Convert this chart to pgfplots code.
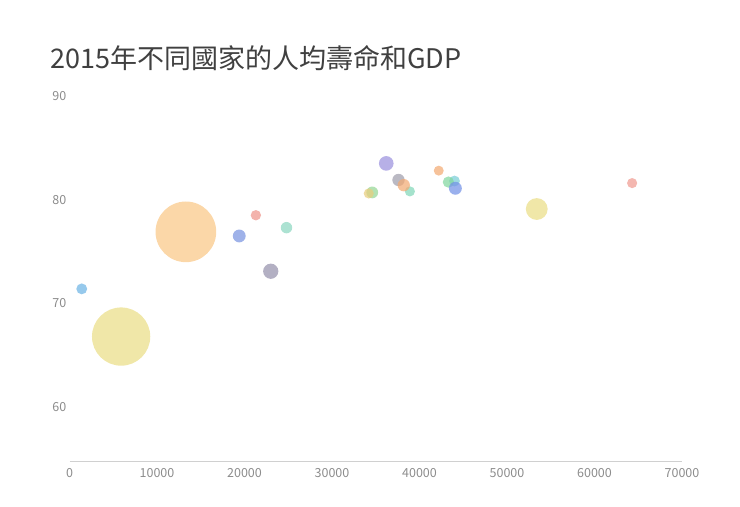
\documentclass[border=0pt]{standalone}
\usepackage{fontspec}
\setmainfont{Noto Sans CJK TC}
\usepackage{pgfplots}
\pgfplotsset{compat=1.18}
\usepackage{pgfplotstable}

\definecolor{ticktext}{HTML}{8C8C8C}
\definecolor{titletext}{HTML}{404040}
\definecolor{axisgray}{HTML}{D0D0D0}

% one colour per country
\definecolor{cAus}{RGB}{120,205,215}
\definecolor{cCan}{RGB}{130,215,160}
\definecolor{cChn}{RGB}{250,200,135}
\definecolor{cCub}{RGB}{238,150,140}
\definecolor{cFin}{RGB}{130,215,185}
\definecolor{cFra}{RGB}{160,158,172}
\definecolor{cDeu}{RGB}{115,145,230}
\definecolor{cIsl}{RGB}{243,170,115}
\definecolor{cInd}{RGB}{234,222,135}
\definecolor{cJpn}{RGB}{155,145,222}
\definecolor{cPrk}{RGB}{110,180,228}
\definecolor{cKor}{RGB}{150,215,150}
\definecolor{cNzl}{RGB}{232,205,125}
\definecolor{cNor}{RGB}{240,155,145}
\definecolor{cPol}{RGB}{140,215,192}
\definecolor{cRus}{RGB}{150,145,172}
\definecolor{cTur}{RGB}{122,148,225}
\definecolor{cGbr}{RGB}{243,170,115}
\definecolor{cUsa}{RGB}{234,222,135}

% gdp per capita, life expectancy, population (millions), colour
\pgfplotstableread{
gdp   life  pop   col
44000 81.8  24    cAus
43300 81.7  36    cCan
13300 76.9  1376  cChn
21300 78.5  11    cCub
38900 80.8  5.5   cFin
37600 81.9  64    cFra
44100 81.1  81    cDeu
42200 82.8  0.3   cIsl
5900  66.8  1311  cInd
36200 83.5  127   cJpn
1400  71.4  25    cPrk
34600 80.7  50    cKor
34200 80.6  4.5   cNzl
64300 81.6  5.2   cNor
24800 77.3  39    cPol
23000 73.1  143   cRus
19400 76.5  79    cTur
38200 81.4  65    cGbr
53400 79.1  322   cUsa
}\lifedata

\begin{document}
\begin{tikzpicture}
\path[use as bounding box] (-69.5bp,-46bp) rectangle (670.5bp,461bp);
\begin{axis}[
    at={(0,0)}, anchor=south west,
    scale only axis,
    width=612.5bp, height=365bp,
    xmin=0, xmax=70000,
    ymin=54.8, ymax=90,
    xtick={0,10000,...,70000},
    ytick={60,70,80,90},
    scaled x ticks=false,
    /pgf/number format/1000 sep={},
    /pgf/number format/assume math mode=true,
    axis x line*=bottom, axis y line*=left,
    x axis line style={draw=axisgray, line width=0.8bp, -},
    y axis line style={draw=none},
    major tick length=0pt,
    tick style={draw=none},
    xticklabel style={font=\fontsize{12.5bp}{14bp}\selectfont, text=ticktext,
        anchor=north, inner sep=0pt, yshift=-7bp},
    yticklabel style={font=\fontsize{12.5bp}{14bp}\selectfont, text=ticktext,
        anchor=east, inner sep=0pt, xshift=-3bp},
    clip=false,
]
\addplot[
    scatter, only marks, mark=*,
    mark options={draw opacity=0, fill opacity=0.72},
    point meta=explicit symbolic,
    scatter/classes={
        cAus={fill=cAus}, cCan={fill=cCan}, cChn={fill=cChn}, cCub={fill=cCub},
        cFin={fill=cFin}, cFra={fill=cFra}, cDeu={fill=cDeu}, cIsl={fill=cIsl},
        cInd={fill=cInd}, cJpn={fill=cJpn}, cPrk={fill=cPrk}, cKor={fill=cKor},
        cNzl={fill=cNzl}, cNor={fill=cNor}, cPol={fill=cPol}, cRus={fill=cRus},
        cTur={fill=cTur}, cGbr={fill=cGbr}, cUsa={fill=cUsa}},
    visualization depends on={\thisrow{pop} \as \pop},
    scatter/@pre marker code/.append style={/tikz/mark size=5+0.0185*\pop},
] table[x=gdp, y=life, meta=col] {\lifedata};
\end{axis}
\node[anchor=west, inner sep=0pt, text=titletext,
      font=\fontsize{27bp}{30bp}\selectfont] at (-19.5bp,403bp)
      {2015年不同國家的人均壽命和GDP};
\end{tikzpicture}
\end{document}
